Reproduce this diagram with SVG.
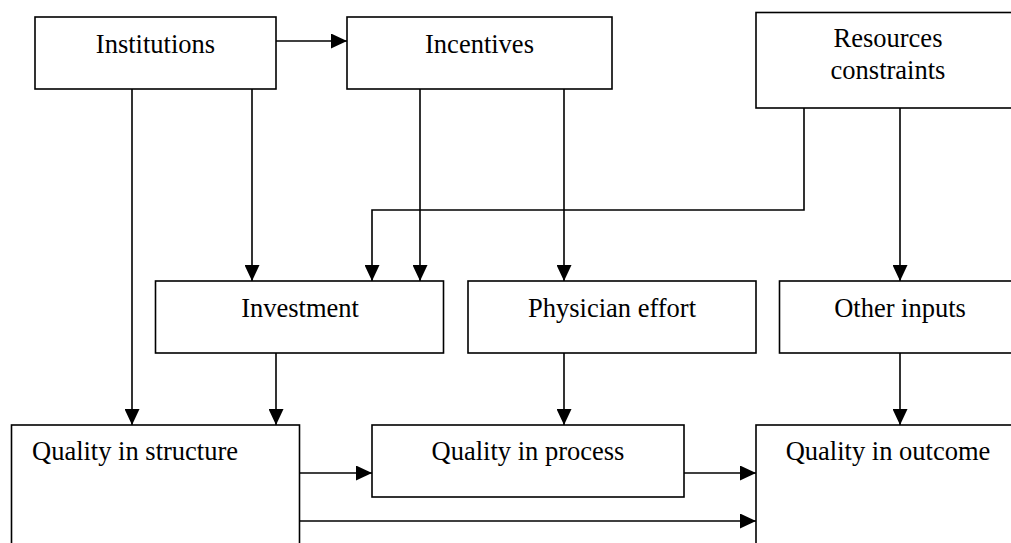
<svg xmlns="http://www.w3.org/2000/svg" width="1011" height="543" viewBox="0 0 1011 543">
  <style>
    .box { fill: #fff; stroke: #000; stroke-width: 1.6; }
    .lbl { font-family: "Liberation Serif", "Times New Roman", serif; font-size: 26.5px; fill: #000; text-anchor: middle; }
    .lbl-left { text-anchor: start; }
    .wire { fill: none; stroke: #000; stroke-width: 1.6; }
  </style>
  <defs>
    <marker id="arrow" markerUnits="userSpaceOnUse" markerWidth="16" markerHeight="15" refX="16" refY="7.5" orient="auto">
      <path d="M0,0 L16,7.5 L0,15 Z" fill="#000"/>
    </marker>
  </defs>
  <rect width="1011" height="543" fill="#fff"/>

  <!-- connectors -->
  <g id="connectors">
    <path class="wire" d="M276,41 H347" marker-end="url(#arrow)"/>
    <path class="wire" d="M132,89 V425" marker-end="url(#arrow)"/>
    <path class="wire" d="M252,89 V281" marker-end="url(#arrow)"/>
    <path class="wire" d="M420,89 V281" marker-end="url(#arrow)"/>
    <path class="wire" d="M564,89 V281" marker-end="url(#arrow)"/>
    <path class="wire" d="M804,108 V210 H372 V281" marker-end="url(#arrow)"/>
    <path class="wire" d="M900,108 V281" marker-end="url(#arrow)"/>
    <path class="wire" d="M276,353 V425" marker-end="url(#arrow)"/>
    <path class="wire" d="M564,353 V425" marker-end="url(#arrow)"/>
    <path class="wire" d="M900,353 V425" marker-end="url(#arrow)"/>
    <path class="wire" d="M299,473 H372" marker-end="url(#arrow)"/>
    <path class="wire" d="M684,473 H756" marker-end="url(#arrow)"/>
    <path class="wire" d="M299,521 H756" marker-end="url(#arrow)"/>
  </g>

  <!-- nodes -->
  <g id="institutions">
    <rect class="box" x="35" y="17" width="241" height="72"/>
    <text class="lbl" x="155.5" y="53">Institutions</text>
  </g>
  <g id="incentives">
    <rect class="box" x="347" y="17" width="265" height="72"/>
    <text class="lbl" x="479.5" y="53">Incentives</text>
  </g>
  <g id="resources">
    <rect class="box" x="756" y="12.5" width="264" height="95.5"/>
    <text class="lbl" x="888" y="47">Resources</text>
    <text class="lbl" x="888" y="79">constraints</text>
  </g>
  <g id="investment">
    <rect class="box" x="155.5" y="281" width="288" height="72"/>
    <text class="lbl" x="300" y="317">Investment</text>
  </g>
  <g id="physician-effort">
    <rect class="box" x="468" y="281" width="288" height="72"/>
    <text class="lbl" x="612" y="317">Physician effort</text>
  </g>
  <g id="other-inputs">
    <rect class="box" x="779.5" y="281" width="242" height="72"/>
    <text class="lbl" x="900" y="317">Other inputs</text>
  </g>
  <g id="quality-structure">
    <rect class="box" x="11.5" y="425" width="288" height="130"/>
    <text class="lbl lbl-left" x="32" y="460">Quality in structure</text>
  </g>
  <g id="quality-process">
    <rect class="box" x="372" y="425" width="312" height="72"/>
    <text class="lbl" x="528" y="460">Quality in process</text>
  </g>
  <g id="quality-outcome">
    <rect class="box" x="756" y="425" width="264" height="130"/>
    <text class="lbl" x="888" y="460">Quality in outcome</text>
  </g>
</svg>
